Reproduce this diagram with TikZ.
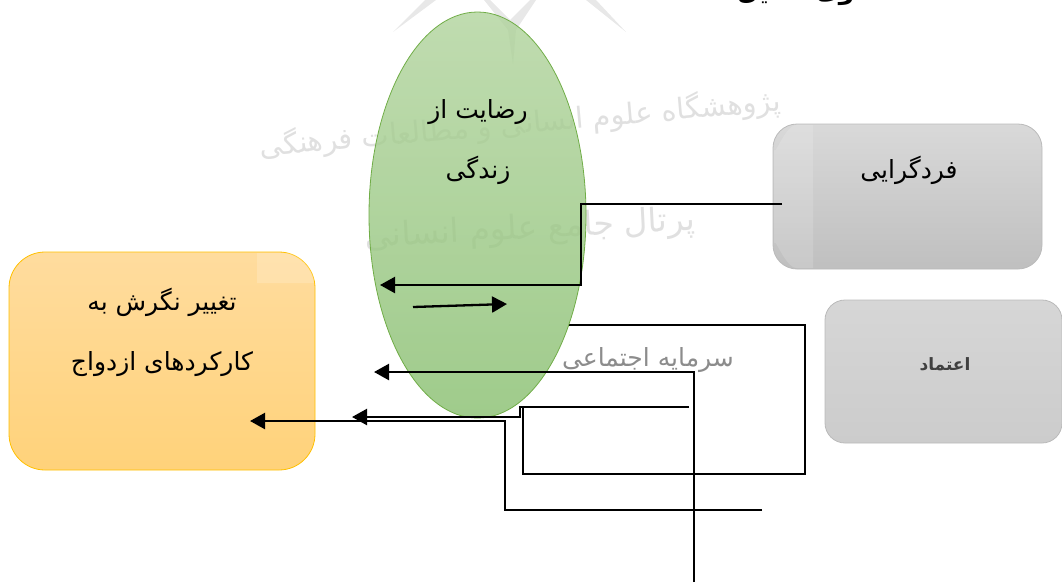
\documentclass[tikz,border=0pt]{standalone}
\usepackage{fontspec}
\usetikzlibrary{arrows.meta,positioning,shapes.geometric}
\TeXXeTstate=1
\newfontfamily\arabicfont[Script=Arabic]{DejaVu Sans}
\newcommand{\rtl}[1]{\beginR #1\endR}
\definecolor{orangetop}{HTML}{FFDC9E}
\definecolor{orangebot}{HTML}{FFD27A}
\definecolor{orangeline}{HTML}{FFC000}
\definecolor{greentop}{HTML}{B0D39C}
\definecolor{greenbot}{HTML}{87BE6E}
\definecolor{greenline}{HTML}{70AD47}
\tikzset{
>={Triangle[length=15pt,width=16pt]},
  label/.style={
    font=\arabicfont\fontsize{25}{29}\selectfont,
    text=black,
    inner sep=0pt,
    align=center},
  watermark/.style={
    font=\arabicfont\fontsize{29}{34}\selectfont,
    text=black!12,
    inner sep=0pt},
  attitudebox/.style={
    rectangle,
    rounded corners=36pt,
    top color=orangetop,
    bottom color=orangebot,
    draw=orangeline, thick,
    minimum width=306pt,
    minimum height=218pt},
  greybox/.style={
    rectangle,
    rounded corners=24pt,
    top color=black!15,
    bottom color=black!25,
    draw=black!27, thick,
    minimum width=269pt,
    minimum height=145pt},
  satisfyoval/.style={
    ellipse,
    top color=greentop,
    bottom color=greenbot,
    fill opacity=.8,
    draw=greenline, thick,
    inner sep=0pt,
    minimum width=217pt,
    minimum height=406pt},
  line/.style={draw, line width=2.3pt},
}
\begin{document}
\begin{tikzpicture}[x=1pt,y=-1pt]
  \clip (0,0) rectangle (1062,582);
  % watermark
  \fill[black!9] (393,32) -- (425,0) -- (436,0) -- cycle;
  \fill[black!9] (490,0) -- (510,20) -- (530,0) -- (536,0) -- (516,30) -- (513,64) -- (508,30) -- (484,0) -- cycle;
  \fill[black!9] (586,0) -- (596,0) -- (626,32) -- cycle;
  \node[watermark, rotate=5] (wmtop) at (520,124) {\rtl{پژوهشگاه علوم انسانی و مطالعات فرهنگی}};
  \node[watermark, rotate=3, font=\arabicfont\fontsize{33}{38}\selectfont] (wmbot) at (530,230) {\rtl{پرتال جامع علوم انسانی}};
  \node[label, font=\arabicfont\bfseries\fontsize{25}{29}\selectfont] (caption) at (812,-9) {\rtl{الگوی تحلیل}};

  \node[attitudebox] (attitude) at (162,361) {};
  \fill[white, opacity=.18] (257,253) -- (297,253) -- (314,270) -- (314,283) -- (257,283) -- cycle;
  \node[label] (attitudetext) at (162,332) {\rtl{تغییر نگرش به}\\[31pt]\rtl{کارکردهای ازدواج}};

  \node[greybox] (indiv) at (907.5,196.5) {};
  \fill[white, opacity=.15] (797,125) -- (813,125) -- (813,268) -- (797,268) to[out=180,in=90] (774,245) -- (774,148) to[out=-90,in=180] cycle;
  \node[label] (indivtext) at (909,170) {\rtl{فردگرایی}};
  \node[greybox, minimum width=237pt, minimum height=143pt, rounded corners=20pt, top color=black!16, bottom color=black!20] (trust) at (943.5,371.5) {};
  \node[label, font=\arabicfont\bfseries\fontsize{17}{20}\selectfont, text=black!75] (trusttext) at (945,364) {\rtl{اعتماد}};

  \coordinate (rectstart) at (569,325);
  \coordinate (rectne) at (805,325);
  \coordinate (rectse) at (805,474);
  \coordinate (rectsw) at (523,474);
  \coordinate (rectend) at (523,407);
  \draw[line] (rectstart) -- (rectne) -- (rectse) -- (rectsw) -- (rectend);

  \node[satisfyoval] (satisfy) at (477.5,215) {};
  \node[label] (satisfytext) at (478,142) {\rtl{رضایت از}\\[31pt]\rtl{زندگی}};
  \node[label, text=black!45] (capital) at (648,360) {\rtl{سرمایه اجتماعی}};

  \coordinate (indivout) at (782,204);
  \coordinate (indivbend) at (581,204);
  \coordinate (indivcorner) at (581,285);
  \coordinate (indivin) at (380,285);
  \draw[line, ->] (indivout) -- (indivbend) -- (indivcorner) -- (indivin);

  \coordinate (innerfrom) at (413,307);
  \coordinate (innerto) at (507,304);
  \draw[line, ->] (innerfrom) -- (innerto);

  \coordinate (longfrom) at (694,582);
  \coordinate (longcorner) at (694,372);
  \coordinate (longto) at (374,372);
  \draw[line, ->] (longfrom) -- (longcorner) -- (longto);

  \coordinate (midfrom) at (689,407);
  \coordinate (midbend) at (520,407);
  \coordinate (midcorner) at (520,417);
  \coordinate (midto) at (352,417);
  \draw[line, ->] (midfrom) -- (midbend) -- (midcorner) -- (midto);

  \coordinate (lowfrom) at (762,510);
  \coordinate (lowbend) at (505,510);
  \coordinate (lowcorner) at (505,421);
  \coordinate (lowto) at (250,421);
  \draw[line, ->] (lowfrom) -- (lowbend) -- (lowcorner) -- (lowto);
\end{tikzpicture}
\end{document}
